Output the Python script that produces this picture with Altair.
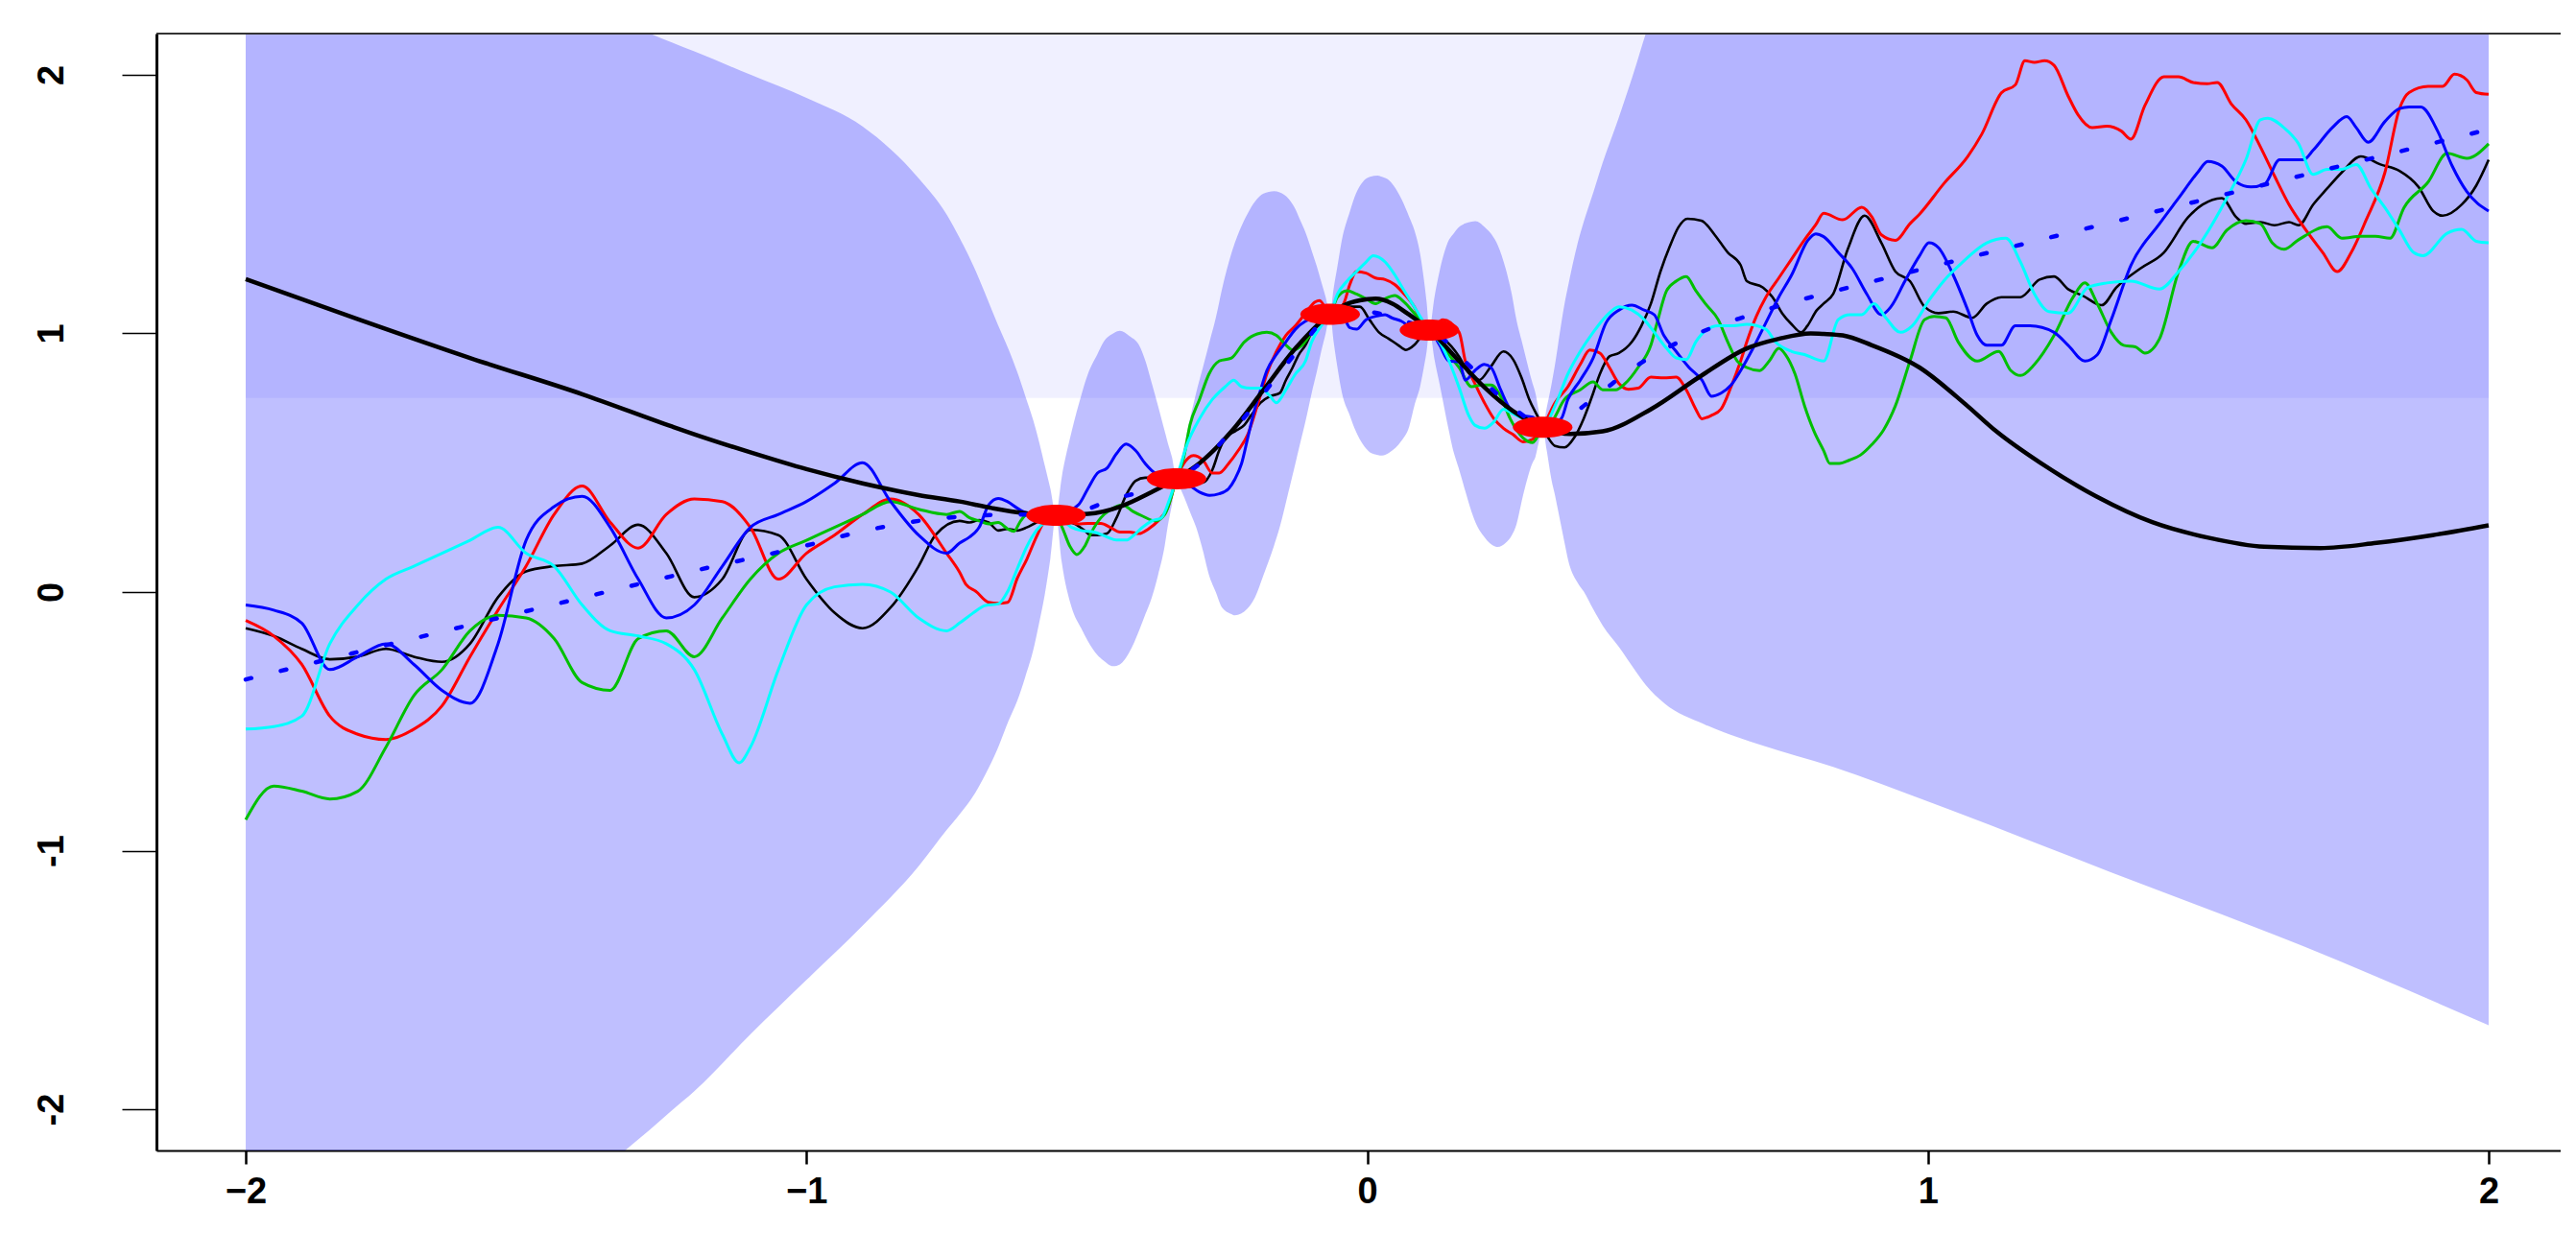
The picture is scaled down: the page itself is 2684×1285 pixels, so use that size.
import altair as alt
import pandas as pd

# ---------------- data ----------------
OBS_X = [-0.555, -0.340, -0.066, 0.111, 0.313]
OBS_Y = [0.297, 0.438, 1.074, 1.013, 0.637]

BAND_X = [-2.0, -1.8, -1.6, -1.5, -1.4, -1.322, -1.28, -1.24, -1.2, -1.1, -1.0, -0.9, -0.8, -0.75,
          -0.727, -0.70, -0.675, -0.658, -0.640, -0.624, -0.610, -0.595, -0.585, -0.575, -0.565, -0.555,
          -0.545, -0.527, -0.510, -0.498, -0.481, -0.470, -0.453, -0.441, -0.424, -0.407, -0.395, -0.384,
          -0.373, -0.361, -0.356, -0.348, -0.340,
          -0.333, -0.327, -0.316, -0.305, -0.293, -0.282, -0.270, -0.259, -0.242, -0.236, -0.214, -0.200,
          -0.185, -0.166, -0.156, -0.140, -0.128, -0.120, -0.110, -0.099, -0.090, -0.082, -0.074, -0.066,
          -0.060, -0.053, -0.045, -0.031, -0.020, -0.008, 0.005, 0.019, 0.0265, 0.040, 0.061, 0.075, 0.084,
          0.095, 0.101, 0.106, 0.111,
          0.120, 0.129, 0.146, 0.152, 0.163, 0.175, 0.186, 0.193, 0.210, 0.228, 0.233, 0.247, 0.258, 0.266,
          0.278, 0.295, 0.300, 0.306, 0.313,
          0.320, 0.329, 0.335, 0.340, 0.352, 0.358, 0.377, 0.386, 0.404, 0.420, 0.448, 0.480, 0.497, 0.53,
          0.6, 0.7, 0.831, 1.0, 1.327, 1.669, 2.0]
BAND_LO = [-3.42, -3.05, -2.68, -2.49, -2.30, -2.156, -2.08, -2.004, -1.93, -1.71, -1.50, -1.29, -1.06, -0.92,
           -0.86, -0.78, -0.68, -0.60, -0.50, -0.42, -0.33, -0.22, -0.12, -0.01, 0.13, 0.297,
           0.12, -0.06, -0.14, -0.19, -0.244, -0.265, -0.287, -0.28, -0.232, -0.15, -0.083, -0.02,
           0.065, 0.18, 0.25, 0.34, 0.438,
           0.40, 0.37, 0.31, 0.25, 0.16, 0.065, 0.0, -0.059, -0.085, -0.09, -0.065, -0.02,
           0.065, 0.18, 0.25, 0.39, 0.497, 0.57, 0.66, 0.769, 0.85, 0.93, 1.00, 1.074,
           0.97, 0.868, 0.77, 0.683, 0.62, 0.572, 0.54, 0.53, 0.528, 0.54, 0.584, 0.64, 0.719,
           0.80, 0.868, 0.93, 1.013,
           0.90, 0.806, 0.62, 0.559, 0.48, 0.39, 0.311, 0.27, 0.21, 0.176, 0.174, 0.19, 0.22, 0.26,
           0.374, 0.50, 0.522, 0.58, 0.637,
           0.55, 0.43, 0.374, 0.32, 0.19, 0.127, 0.03, 0.003, -0.07, -0.13, -0.21, -0.31, -0.36, -0.43,
           -0.51, -0.59, -0.676, -0.81, -1.084, -1.369, -1.675]
BAND_HI = [2.74, 2.58, 2.42, 2.34, 2.26, 2.20, 2.16, 2.125, 2.09, 2.00, 1.91, 1.80, 1.60, 1.46,
           1.37, 1.25, 1.12, 1.03, 0.94, 0.85, 0.76, 0.66, 0.58, 0.49, 0.40, 0.297,
           0.44, 0.621, 0.76, 0.843, 0.92, 0.967, 1.00, 1.010, 0.99, 0.955, 0.89, 0.806,
           0.72, 0.621, 0.58, 0.52, 0.438,
           0.50, 0.559, 0.670, 0.77, 0.868, 0.96, 1.06, 1.17, 1.31, 1.35, 1.46, 1.51,
           1.54, 1.55, 1.545, 1.52, 1.48, 1.44, 1.39, 1.32, 1.26, 1.20, 1.14, 1.074,
           1.17, 1.26, 1.362, 1.47, 1.54, 1.585, 1.605, 1.61, 1.605, 1.59, 1.52, 1.45, 1.40,
           1.30, 1.21, 1.12, 1.013,
           1.14, 1.239, 1.362, 1.38, 1.41, 1.425, 1.432, 1.434, 1.41, 1.362, 1.34, 1.25, 1.15, 1.054,
           0.95, 0.806, 0.77, 0.70, 0.637,
           0.71, 0.806, 0.88, 0.95, 1.115, 1.18, 1.362, 1.43, 1.55, 1.66, 1.83, 2.04, 2.16, 2.33,
           2.6, 2.95, 3.3, 3.65, 4.2, 4.7, 5.25]

MEAN_X = [-2.0, -1.8, -1.6, -1.4, -1.2, -1.0, -0.9, -0.8, -0.7, -0.62, -0.555, -0.5, -0.459, -0.399,
          -0.34, -0.305, -0.276, -0.253, -0.228, -0.207, -0.164, -0.144, -0.11, -0.066, -0.03, 0.0, 0.035,
          0.07, 0.111, 0.14, 0.163, 0.191, 0.22, 0.25, 0.28, 0.313, 0.335, 0.358, 0.39, 0.423, 0.453, 0.488,
          0.528, 0.573, 0.624, 0.679, 0.737, 0.797, 0.858, 0.983, 1.231, 1.481, 1.730, 1.980, 2.0]
MEAN_Y = [-0.338, -0.232, -0.127, -0.022, 0.082, 0.18, 0.235, 0.275, 0.295, 0.30, 0.297, 0.32, 0.355, 0.39,
          0.438, 0.485, 0.54, 0.596, 0.652, 0.707, 0.825, 0.88, 0.97, 1.074, 1.09, 1.085, 1.07,
          1.045, 1.013, 0.97, 0.917, 0.856, 0.79, 0.73, 0.68, 0.637, 0.645, 0.673, 0.726, 0.781, 0.833, 0.885,
          0.936, 0.984, 1.029, 1.068, 1.108, 1.143, 1.177, 1.245, 1.378, 1.511, 1.644, 1.778, 1.789]

TRUE_X = [-2.0, -1.8, -1.6, -1.4, -1.24, -1.2, -1.1, -1.0, -0.9, -0.8, -0.727, -0.67, -0.612, -0.555,
          -0.498, -0.441, -0.384, -0.34, -0.299, -0.242, -0.185, -0.128, -0.066, -0.04, -0.013, 0.015, 0.045,
          0.071, 0.111, 0.164, 0.21, 0.26, 0.313, 0.362, 0.42, 0.506, 0.592, 0.677, 0.734, 0.791, 0.814,
          0.848, 0.899, 0.985, 1.070, 1.122, 1.2, 1.3, 1.4, 1.5, 1.6, 1.7, 1.8, 1.9, 2.0]
TRUE_Y = [1.21, 1.055, 0.905, 0.765, 0.64, 0.61, 0.54, 0.475, 0.42, 0.375, 0.35, 0.325, 0.305, 0.297,
          0.302, 0.33, 0.387, 0.438, 0.498, 0.621, 0.781, 0.942, 1.074, 1.11, 1.128, 1.134, 1.115,
          1.078, 1.013, 0.893, 0.79, 0.70, 0.637, 0.611, 0.621, 0.707, 0.831, 0.942, 0.979, 1.0, 0.998,
          0.992, 0.955, 0.868, 0.72, 0.621, 0.50, 0.37, 0.27, 0.21, 0.175, 0.17, 0.19, 0.22, 0.258]

BLACK_X = [-2.0, -1.95, -1.9, -1.85, -1.8, -1.75, -1.7, -1.65, -1.6, -1.55, -1.5, -1.45, -1.4, -1.35, -1.3,
           -1.25, -1.2, -1.15, -1.1, -1.05, -1.0, -0.95, -0.9, -0.85, -0.8, -0.77,
           -0.727, -0.709, -0.692, -0.675, -0.658, -0.641, -0.624, -0.607, -0.590, -0.555, -0.538, -0.521,
           -0.504, -0.493, -0.481, -0.464, -0.447, -0.430, -0.413, -0.396, -0.378, -0.34, -0.316, -0.293,
           -0.276, -0.264, -0.253, -0.236, -0.219, -0.207, -0.190, -0.173, -0.156, -0.145, -0.133, -0.122,
           -0.110, -0.099, -0.082, -0.066, -0.042, -0.013, 0.004, 0.021, 0.038, 0.055, 0.069, 0.084, 0.098,
           0.111, 0.13, 0.15, 0.164, 0.18, 0.20, 0.22, 0.243, 0.26, 0.275, 0.289, 0.306, 0.313, 0.323, 0.335,
           0.352, 0.369, 0.386, 0.403, 0.415, 0.432, 0.449, 0.472, 0.489, 0.506, 0.523, 0.540, 0.555, 0.571,
           0.596, 0.620, 0.643, 0.666, 0.677, 0.706, 0.723, 0.740, 0.757, 0.774, 0.785, 0.802, 0.814, 0.831,
           0.857, 0.887, 0.917, 0.942, 0.968, 0.994, 1.019, 1.045, 1.079, 1.105, 1.131, 1.165, 1.199, 1.225,
           1.250, 1.276, 1.310, 1.336, 1.379, 1.421, 1.464, 1.490, 1.524, 1.550, 1.567, 1.593, 1.618, 1.644,
           1.661, 1.687, 1.712, 1.738, 1.772, 1.807, 1.841, 1.875, 1.901, 1.918, 1.952, 1.978, 2.0]
BLACK_Y = [-0.14, -0.17, -0.22, -0.26, -0.25, -0.22, -0.25, -0.27, -0.20, -0.02, 0.08, 0.10, 0.11, 0.18, 0.26,
           0.15, -0.02, 0.05, 0.24, 0.22, 0.05, -0.08, -0.14, -0.06, 0.10, 0.22,
           0.275, 0.269, 0.278, 0.269, 0.238, 0.244, 0.238, 0.25, 0.269, 0.297, 0.275, 0.263,
           0.238, 0.22, 0.22, 0.226, 0.287, 0.374, 0.43, 0.442, 0.442, 0.438, 0.448, 0.423,
           0.473, 0.547, 0.596, 0.621, 0.646, 0.683, 0.732, 0.757, 0.769, 0.819, 0.868, 0.918,
           0.955, 1.004, 1.053, 1.074, 1.103, 1.103, 1.053, 1.004, 0.98, 0.955, 0.936, 0.955, 0.992,
           1.013, 0.99, 0.95, 0.91, 0.85, 0.82, 0.87, 0.93, 0.90, 0.83, 0.745, 0.67, 0.637, 0.596, 0.565,
           0.559, 0.596, 0.67, 0.769, 0.843, 0.911, 0.924, 0.967, 1.029, 1.115, 1.239, 1.338, 1.41, 1.443,
           1.436, 1.38, 1.313, 1.264, 1.202, 1.177, 1.14, 1.078, 1.035, 1.004, 1.029, 1.09, 1.115, 1.152,
           1.325, 1.455, 1.35, 1.239, 1.202, 1.103, 1.078, 1.084, 1.06, 1.115, 1.14, 1.14, 1.208, 1.22,
           1.171, 1.146, 1.109, 1.177, 1.251, 1.313, 1.449, 1.498, 1.523, 1.449, 1.424, 1.43, 1.418, 1.43,
           1.418, 1.498, 1.56, 1.622, 1.684, 1.653, 1.628, 1.566, 1.473, 1.455, 1.498, 1.572, 1.671]

RED_X = [-2.0, -1.95, -1.9, -1.85, -1.8, -1.75, -1.7, -1.65, -1.6, -1.55, -1.5, -1.45, -1.4, -1.35, -1.3,
         -1.25, -1.2, -1.15, -1.1, -1.05, -1.0, -0.95, -0.9, -0.85, -0.8, -0.75,
         -0.727, -0.715, -0.698, -0.675, -0.658, -0.641, -0.624, -0.607, -0.590, -0.575, -0.555, -0.533,
         -0.515, -0.498, -0.475, -0.458, -0.441, -0.424, -0.407, -0.390, -0.373, -0.356, -0.34, -0.327,
         -0.310, -0.293, -0.276, -0.264, -0.247, -0.230, -0.213, -0.196, -0.179, -0.162, -0.145, -0.128,
         -0.110, -0.093, -0.085, -0.066, -0.042, -0.031, -0.019, -0.002, 0.015, 0.032, 0.049, 0.066, 0.084,
         0.095, 0.111, 0.135, 0.164, 0.175, 0.192, 0.209, 0.226, 0.243, 0.260, 0.278, 0.295, 0.313, 0.335,
         0.358, 0.380, 0.397, 0.415, 0.432, 0.449, 0.466, 0.483, 0.506, 0.529, 0.551, 0.569, 0.586, 0.597,
         0.614, 0.631, 0.649, 0.666, 0.677, 0.694, 0.711, 0.734, 0.757, 0.780, 0.80, 0.814, 0.848, 0.882,
         0.9, 0.917, 0.942, 0.968, 0.985, 1.028, 1.071, 1.096, 1.131, 1.156, 1.173, 1.190, 1.208, 1.225,
         1.250, 1.268, 1.293, 1.319, 1.345, 1.362, 1.387, 1.421, 1.447, 1.473, 1.498, 1.516, 1.541, 1.567,
         1.593, 1.618, 1.644, 1.670, 1.704, 1.730, 1.755, 1.781, 1.815, 1.841, 1.858, 1.892, 1.918, 1.939,
         1.961, 1.978, 2.0]
RED_Y = [-0.11, -0.17, -0.28, -0.48, -0.55, -0.57, -0.53, -0.44, -0.25, -0.07, 0.10, 0.30, 0.41, 0.27, 0.17,
         0.30, 0.36, 0.35, 0.25, 0.05, 0.15, 0.22, 0.30, 0.36, 0.30, 0.15,
         0.077, 0.028, 0.003, -0.04, -0.044, -0.04, 0.053, 0.127, 0.213, 0.275, 0.297, 0.275,
         0.263, 0.265, 0.265, 0.25, 0.232, 0.232, 0.226, 0.244, 0.275, 0.324, 0.438, 0.497,
         0.528, 0.51, 0.46, 0.46, 0.497, 0.547, 0.609, 0.72, 0.843, 0.93, 0.992, 1.029,
         1.078, 1.121, 1.127, 1.074, 1.115, 1.189, 1.239, 1.233, 1.214, 1.208, 1.189, 1.152, 1.103,
         1.053, 1.013, 1.053, 1.004, 0.893, 0.806, 0.732, 0.67, 0.633, 0.609, 0.581, 0.59, 0.637, 0.732,
         0.794, 0.88, 0.936, 0.924, 0.868, 0.806, 0.784, 0.788, 0.831, 0.828, 0.831, 0.782, 0.707, 0.67,
         0.683, 0.707, 0.794, 0.893, 0.967, 1.066, 1.14, 1.214, 1.288, 1.362, 1.42, 1.464, 1.439, 1.488,
         1.45, 1.381, 1.36, 1.424, 1.461, 1.578, 1.684, 1.77, 1.93, 1.961, 2.054, 2.048, 2.054, 2.036,
         1.918, 1.844, 1.795, 1.801, 1.782, 1.751, 1.881, 1.992, 1.992, 1.97, 1.965, 1.97, 1.887, 1.826,
         1.721, 1.609, 1.498, 1.412, 1.313, 1.239, 1.313, 1.436, 1.622, 1.869, 1.931, 1.955, 1.955, 2.002,
         1.98, 1.931, 1.924]

GREEN_X = [-2.0, -1.95, -1.9, -1.85, -1.8, -1.75, -1.7, -1.65, -1.6, -1.55, -1.5, -1.45, -1.4, -1.35, -1.3,
           -1.25, -1.2, -1.15, -1.1, -1.05, -1.0, -0.95, -0.9, -0.85, -0.8, -0.75,
           -0.727, -0.709, -0.692, -0.675, -0.658, -0.641, -0.630, -0.618, -0.607, -0.555, -0.544, -0.530,
           -0.518, -0.504, -0.493, -0.475, -0.458, -0.436, -0.418, -0.401, -0.378, -0.361, -0.34, -0.327,
           -0.316, -0.299, -0.282, -0.264, -0.242, -0.219, -0.196, -0.179, -0.162, -0.145, -0.133, -0.116,
           -0.099, -0.082, -0.066, -0.053, -0.036, -0.019, -0.002, 0.015, 0.032, 0.049, 0.066, 0.084, 0.111,
           0.13, 0.145, 0.164, 0.186, 0.203, 0.221, 0.238, 0.255, 0.278, 0.295, 0.313, 0.329, 0.352, 0.380,
           0.403, 0.420, 0.443, 0.460, 0.483, 0.506, 0.517, 0.534, 0.551, 0.569, 0.586, 0.603, 0.626, 0.643,
           0.660, 0.677, 0.700, 0.717, 0.734, 0.746, 0.763, 0.780, 0.797, 0.814, 0.825, 0.842, 0.86, 0.88,
           0.90, 0.921, 0.942, 0.968, 0.994, 1.011, 1.032, 1.054, 1.088, 1.126, 1.148, 1.165, 1.190, 1.225,
           1.259, 1.280, 1.302, 1.327, 1.349, 1.370, 1.387, 1.413, 1.447, 1.473, 1.507, 1.533, 1.567, 1.593,
           1.614, 1.635, 1.661, 1.712, 1.738, 1.772, 1.798, 1.824, 1.849, 1.892, 1.926, 1.961, 2.0]
GREEN_Y = [-0.88, -0.75, -0.77, -0.80, -0.77, -0.60, -0.40, -0.30, -0.15, -0.09, -0.10, -0.18, -0.35, -0.38, -0.18,
           -0.15, -0.25, -0.10, 0.05, 0.15, 0.20, 0.25, 0.30, 0.35, 0.32, 0.30,
           0.312, 0.287, 0.275, 0.263, 0.269, 0.244, 0.235, 0.275, 0.3, 0.297, 0.25, 0.176,
           0.145, 0.176, 0.226, 0.287, 0.318, 0.337, 0.312, 0.294, 0.275, 0.3, 0.438, 0.522,
           0.646, 0.745, 0.843, 0.893, 0.905, 0.967, 0.998, 1.004, 0.992, 0.955, 0.936, 0.955,
           1.004, 1.053, 1.074, 1.14, 1.165, 1.152, 1.134, 1.115, 1.134, 1.146, 1.121, 1.078, 1.013,
           0.97, 0.92, 0.868, 0.794, 0.8, 0.8, 0.757, 0.67, 0.596, 0.578, 0.637, 0.658, 0.745, 0.782,
           0.812, 0.782, 0.782, 0.806, 0.868, 0.955, 1.041, 1.165, 1.202, 1.22, 1.165, 1.115, 1.053, 0.967,
           0.893, 0.868, 0.856, 0.893, 0.942, 0.918, 0.843, 0.72, 0.621, 0.547, 0.497, 0.497, 0.51, 0.53,
           0.57, 0.627, 0.72, 0.893, 1.053, 1.066, 1.06, 0.967, 0.893, 0.93, 0.856, 0.837, 0.88, 0.992,
           1.14, 1.195, 1.115, 1.004, 0.954, 0.948, 0.924, 0.979, 1.239, 1.356, 1.331, 1.399, 1.436, 1.424,
           1.35, 1.325, 1.362, 1.412, 1.368, 1.375, 1.375, 1.368, 1.486, 1.585, 1.696, 1.677, 1.733]

BLUE_X = [-2.0, -1.95, -1.9, -1.85, -1.8, -1.75, -1.7, -1.65, -1.6, -1.55, -1.5, -1.45, -1.4, -1.35, -1.3,
          -1.25, -1.2, -1.15, -1.1, -1.05, -1.0, -0.95, -0.9, -0.85, -0.8, -0.75,
          -0.727, -0.709, -0.692, -0.675, -0.658, -0.641, -0.624, -0.607, -0.555, -0.515, -0.498, -0.481,
          -0.464, -0.447, -0.430, -0.413, -0.396, -0.378, -0.356, -0.34, -0.316, -0.299, -0.281, -0.264,
          -0.247, -0.236, -0.224, -0.213, -0.202, -0.190, -0.179, -0.162, -0.145, -0.128, -0.110, -0.066,
          -0.042, -0.031, -0.019, -0.002, 0.015, 0.032, 0.044, 0.061, 0.084, 0.111, 0.129, 0.146, 0.164,
          0.175, 0.192, 0.209, 0.221, 0.238, 0.255, 0.272, 0.295, 0.313, 0.346, 0.358, 0.380, 0.403, 0.426,
          0.449, 0.472, 0.494, 0.512, 0.529, 0.551, 0.574, 0.597, 0.614, 0.631, 0.649, 0.666, 0.688, 0.711,
          0.734, 0.757, 0.786, 0.80, 0.814, 0.840, 0.865, 0.891, 0.917, 0.934, 0.959, 0.985, 1.002, 1.019,
          1.045, 1.071, 1.088, 1.105, 1.131, 1.156, 1.182, 1.225, 1.250, 1.280, 1.302, 1.327, 1.362, 1.413,
          1.447, 1.481, 1.499, 1.524, 1.550, 1.576, 1.601, 1.627, 1.670, 1.687, 1.721, 1.747, 1.764, 1.785,
          1.815, 1.841, 1.858, 1.879, 1.909, 1.935, 1.961, 2.0]
BLUE_Y = [-0.05, -0.07, -0.12, -0.30, -0.25, -0.20, -0.28, -0.38, -0.43, -0.20, 0.20, 0.33, 0.37, 0.25, 0.05,
          -0.10, -0.05, 0.10, 0.25, 0.30, 0.35, 0.42, 0.50, 0.35, 0.22, 0.15,
          0.189, 0.213, 0.25, 0.337, 0.362, 0.349, 0.324, 0.306, 0.297, 0.337, 0.4, 0.46,
          0.479, 0.535, 0.572, 0.547, 0.497, 0.46, 0.448, 0.438, 0.411, 0.386, 0.374, 0.38,
          0.4, 0.436, 0.497, 0.596, 0.695, 0.782, 0.856, 0.918, 0.967, 1.016, 1.047, 1.074,
          1.06, 1.022, 1.016, 1.053, 1.066, 1.072, 1.06, 1.047, 1.016, 1.013, 0.955, 0.893, 0.89,
          0.819, 0.856, 0.88, 0.868, 0.782, 0.707, 0.683, 0.676, 0.637, 0.67, 0.745, 0.819, 0.905, 1.041,
          1.09, 1.109, 1.09, 1.072, 0.992, 0.93, 0.868, 0.819, 0.757, 0.769, 0.8, 0.856, 0.942, 1.041,
          1.14, 1.226, 1.36, 1.385, 1.374, 1.313, 1.251, 1.152, 1.072, 1.103, 1.202, 1.3, 1.35, 1.331,
          1.226, 1.09, 0.992, 0.954, 0.954, 1.029, 1.029, 1.004, 0.954, 0.893, 0.917, 1.053, 1.263, 1.424,
          1.523, 1.622, 1.665, 1.647, 1.585, 1.566, 1.578, 1.671, 1.671, 1.708, 1.795, 1.838, 1.795, 1.739,
          1.819, 1.869, 1.875, 1.875, 1.782, 1.647, 1.548, 1.473]

CYAN_X = [-2.0, -1.95, -1.9, -1.85, -1.8, -1.75, -1.7, -1.65, -1.6, -1.55, -1.5, -1.45, -1.4, -1.35, -1.3,
          -1.25, -1.2, -1.15, -1.12, -1.1, -1.05, -1.0, -0.95, -0.9, -0.85, -0.8, -0.75,
          -0.727, -0.704, -0.681, -0.658, -0.641, -0.624, -0.607, -0.590, -0.572, -0.555, -0.527, -0.510,
          -0.487, -0.464, -0.447, -0.430, -0.416, -0.401, -0.384, -0.367, -0.350, -0.34, -0.321, -0.299,
          -0.276, -0.253, -0.238, -0.224, -0.207, -0.190, -0.173, -0.162, -0.145, -0.128, -0.110, -0.099,
          -0.082, -0.066, -0.053, -0.036, -0.019, -0.002, 0.011, 0.032, 0.049, 0.066, 0.084, 0.098, 0.111,
          0.129, 0.146, 0.164, 0.181, 0.192, 0.209, 0.226, 0.243, 0.260, 0.278, 0.295, 0.313, 0.335, 0.358,
          0.380, 0.403, 0.426, 0.449, 0.472, 0.494, 0.512, 0.534, 0.551, 0.569, 0.586, 0.603, 0.626, 0.654,
          0.677, 0.711, 0.728, 0.757, 0.780, 0.802, 0.814, 0.840, 0.861, 0.882, 0.904, 0.925, 0.951, 0.972,
          1.002, 1.028, 1.062, 1.105, 1.139, 1.165, 1.190, 1.216, 1.250, 1.285, 1.319, 1.362, 1.413, 1.447,
          1.490, 1.533, 1.567, 1.593, 1.606, 1.635, 1.661, 1.687, 1.712, 1.738, 1.764, 1.790, 1.815, 1.841,
          1.866, 1.883, 1.926, 1.952, 1.978, 2.0]
CYAN_Y = [-0.53, -0.52, -0.48, -0.20, -0.05, 0.05, 0.10, 0.15, 0.20, 0.25, 0.15, 0.10, -0.05, -0.15, -0.17,
          -0.20, -0.30, -0.55, -0.66, -0.60, -0.30, -0.05, 0.02, 0.03, 0.00, -0.10, -0.15,
          -0.12, -0.083, -0.052, -0.046, 0.003, 0.09, 0.176, 0.238, 0.275, 0.297, 0.25, 0.238,
          0.232, 0.213, 0.201, 0.201, 0.22, 0.25, 0.275, 0.287, 0.374, 0.438, 0.572, 0.67,
          0.745, 0.794, 0.819, 0.794, 0.788, 0.788, 0.757, 0.732, 0.782, 0.843, 0.893, 0.967,
          1.029, 1.074, 1.152, 1.202, 1.239, 1.276, 1.30, 1.276, 1.227, 1.165, 1.103, 1.053, 1.013,
          0.967, 0.893, 0.79, 0.683, 0.645, 0.633, 0.658, 0.707, 0.689, 0.67, 0.65, 0.637, 0.72, 0.843,
          0.93, 1.004, 1.066, 1.103, 1.09, 1.053, 1.004, 0.942, 0.905, 0.899, 0.967, 1.01, 1.029, 1.029,
          1.035, 1.016, 0.967, 0.93, 0.918, 0.899, 0.893, 1.053, 1.072, 1.072, 1.115, 1.06, 1.004, 1.029,
          1.128, 1.202, 1.276, 1.35, 1.368, 1.276, 1.152, 1.084, 1.078, 1.177, 1.195, 1.202, 1.171, 1.239,
          1.362, 1.523, 1.671, 1.826, 1.832, 1.795, 1.733, 1.615, 1.634, 1.634, 1.653, 1.56, 1.486, 1.399,
          1.313, 1.3, 1.387, 1.402, 1.356, 1.35]

X_TICKS = [-2, -1, 0, 1, 2]
Y_TICKS = [-2, -1, 0, 1, 2]

# ---------------- chart ----------------
PAD_L, PAD_T = 155, 27
W, H = 2505, 1164
XRANGE = 2524
XS = alt.Scale(domain=[-2.1592, 2.1609], range=[0, XRANGE], nice=False, zero=False)
YS = alt.Scale(domain=[-2.159, 2.159], nice=False, zero=False)
FONT = "Liberation Sans"

x_axis = alt.Axis(values=X_TICKS, title=None, grid=False,
                  labelExpr="datum.value < 0 ? '\u2212' + abs(datum.value) : '' + datum.value",
                  tickSize=14, tickWidth=2.5, tickColor="black", domainColor="black", domainWidth=2,
                  labelFont=FONT, labelFontSize=38, labelFontWeight="bold", labelColor="black",
                  labelPadding=10, labelFlush=False, labelOverlap=False)
y_axis = alt.Axis(values=Y_TICKS, title=None, grid=False,
                  labelExpr="datum.value < 0 ? '-' + abs(datum.value) : '' + datum.value",
                  tickSize=36, tickWidth=1.5, tickColor="black", domainColor="black", domainWidth=3,
                  labelFont=FONT, labelFontSize=38, labelFontWeight="bold", labelColor="black",
                  labelAngle=270, labelAlign="center", labelBaseline="middle", labelPadding=73,
                  labelFlush=False, labelOverlap=False)


def xe(field="x"):
    return alt.X(f"{field}:Q", scale=XS, axis=x_axis)


def ye(field="y"):
    return alt.Y(f"{field}:Q", scale=YS, axis=y_axis)


rect_df = pd.DataFrame({"x": [-2.0], "x2": [2.0], "y": [0.75], "y2": [2.5]})
rect = alt.Chart(rect_df).mark_rect(color="#f0f0ff", clip=True).encode(
    x=xe(), x2="x2:Q", y=ye(), y2="y2:Q")

band_df = pd.DataFrame({"x": BAND_X, "lo": BAND_LO, "hi": BAND_HI})
band = alt.Chart(band_df).mark_area(color="#0000ff", opacity=0.25, clip=True,
                                    interpolate="monotone").encode(
    x=xe(), y=ye("lo"), y2="hi:Q")

layers = [rect, band]
for xs, ys, col, w in [(BLACK_X, BLACK_Y, "#000000", 2.6), (RED_X, RED_Y, "#ff0000", 3),
                       (GREEN_X, GREEN_Y, "#00c000", 3), (BLUE_X, BLUE_Y, "#0000ff", 3),
                       (CYAN_X, CYAN_Y, "#00ffff", 3)]:
    df = pd.DataFrame({"x": xs, "y": ys})
    layers.append(alt.Chart(df).mark_line(color=col, strokeWidth=w, clip=True,
                                          interpolate="monotone").encode(x=xe(), y=ye()))

true_df = pd.DataFrame({"x": TRUE_X, "y": TRUE_Y})
layers.append(alt.Chart(true_df).mark_line(color="#000000", strokeWidth=4.5, clip=True,
                                           interpolate="monotone").encode(x=xe(), y=ye()))

mean_df = pd.DataFrame({"x": MEAN_X, "y": MEAN_Y})
layers.append(alt.Chart(mean_df).mark_line(color="#0000ff", strokeWidth=4.5, strokeDash=[6, 31.6],
                                           strokeCap="round", clip=True,
                                           interpolate="monotone").encode(x=xe(), y=ye()))

ELLIPSE = "M -1 0 A 1 0.355 0 1 0 1 0 A 1 0.355 0 1 0 -1 0 Z"
obs_df = pd.DataFrame({"x": OBS_X, "y": OBS_Y})
layers.append(alt.Chart(obs_df).mark_point(shape=ELLIPSE, filled=True, size=3844, color="#ff0000",
                                           opacity=1).encode(x=xe(), y=ye()))

top_df = pd.DataFrame({"a": [0]})
layers.append(alt.Chart(top_df).mark_rule(color="#333333", strokeWidth=2).encode(
    x=alt.value(0), x2=alt.value(XRANGE), y=alt.value(0)))

chart = alt.layer(*layers).properties(
    width=W, height=H,
    padding={"left": PAD_L, "top": PAD_T, "right": 0, "bottom": 71},
    autosize=alt.AutoSizeParams(type="none"),
    background="white",
).configure_view(strokeWidth=0)

chart.save("out.html", embed_options={"renderer": "svg", "actions": False})
